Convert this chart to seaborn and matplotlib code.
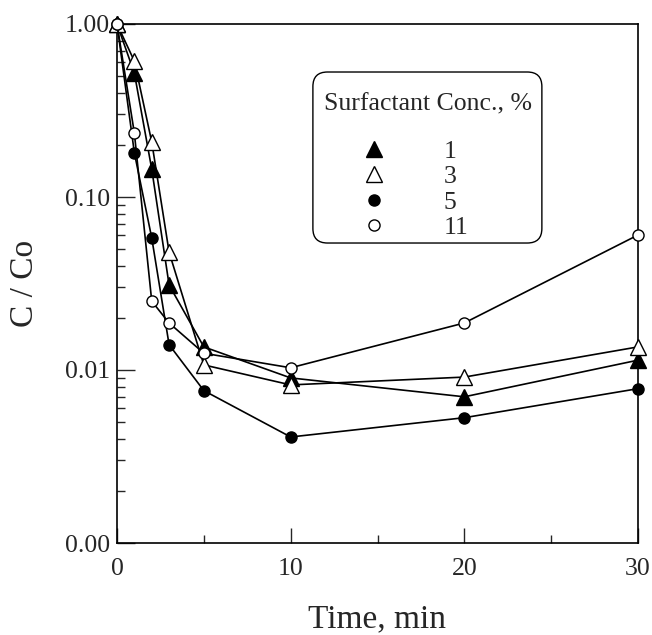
import numpy as np
import pandas as pd
import matplotlib
matplotlib.use("Agg")
import matplotlib.pyplot as plt
import matplotlib.ticker as mticker
from matplotlib.lines import Line2D
from matplotlib.patches import FancyBboxPatch
import seaborn as sns

# ---- data ----
time_min = [0, 1, 2, 3, 5, 10, 20, 30]
conc_1 = [1.0, 0.52, 0.145, 0.031, 0.0136, 0.0090, 0.0070, 0.0114]
conc_3 = [1.0, 0.61, 0.208, 0.048, 0.0107, 0.0082, 0.0091, 0.0136]
conc_5 = [1.0, 0.18, 0.058, 0.0140, 0.0076, 0.0041, 0.0053, 0.0078]
conc_11 = [1.0, 0.234, 0.025, 0.0187, 0.0125, 0.0103, 0.0187, 0.0603]
series_labels = ["1", "3", "5", "11"]
y_ticks = [0.001, 0.01, 0.1, 1.0]
y_tick_labels = ["0.00", "0.01", "0.10", "1.00"]
x_ticks = [0, 10, 20, 30]

sns.set_style("ticks")
plt.rcParams["font.family"] = ["Liberation Serif", "DejaVu Serif"]

fig = plt.figure(figsize=(6.52, 6.35), dpi=100)
ax = fig.add_axes([117 / 652, 1 - 543 / 635, (638 - 117) / 652, (543 - 24) / 635])

styles = [
    dict(marker="^", markerfacecolor="black", markersize=11.5),
    dict(marker="^", markerfacecolor="white", markersize=11.5),
    dict(marker="o", markerfacecolor="black", markersize=8),
    dict(marker="o", markerfacecolor="white", markersize=8),
]
all_series = [conc_1, conc_3, conc_5, conc_11]

ax.set_yscale("log")
for vals, st, lab in zip(all_series, styles, series_labels):
    df = pd.DataFrame({"t": time_min, "c": vals})
    sns.lineplot(data=df, x="t", y="c", ax=ax, color="black", linewidth=1.2,
                 estimator=None, markeredgecolor="black", markeredgewidth=1.0,
                 zorder=3, clip_on=False, **st)

ax.set_xlim(0, 30)
ax.set_ylim(0.001, 1.0)
ax.yaxis.set_major_locator(mticker.FixedLocator(y_ticks))
ax.yaxis.set_major_formatter(mticker.FixedFormatter(y_tick_labels))
ax.yaxis.set_minor_locator(mticker.LogLocator(base=10, subs=np.arange(2, 10)))
ax.yaxis.set_minor_formatter(mticker.NullFormatter())
ax.xaxis.set_major_locator(mticker.FixedLocator(x_ticks))
ax.xaxis.set_minor_locator(mticker.MultipleLocator(5))

ax.tick_params(axis="y", which="major", direction="in", length=13, width=1.0,
               labelsize=18.5, pad=5)
ax.tick_params(axis="y", which="minor", direction="in", length=6, width=1.0)
ax.tick_params(axis="x", which="major", direction="in", length=11, width=1.0,
               labelsize=18.5, pad=11)
ax.tick_params(axis="x", which="minor", direction="in", length=6, width=1.0)
for sp in ax.spines.values():
    sp.set_linewidth(1.2)
    sp.set_color("black")

ax.set_xlabel("Time, min", fontsize=24, labelpad=17)
ax.set_ylabel("C / Co", fontsize=24, labelpad=18)

# rounded legend frame
box = FancyBboxPatch((0.376, 0.578), 0.4395, 0.3295,
                     boxstyle="round,pad=0,rounding_size=0.028",
                     transform=ax.transAxes, facecolor="white",
                     edgecolor="black", linewidth=1.0, zorder=4)
ax.add_patch(box)

handles = [Line2D([], [], linestyle="none", color="black",
                  markeredgecolor="black", markeredgewidth=1.0, **st)
           for st in styles]
leg = ax.legend(handles, series_labels, title="Surfactant Conc., %",
                loc="upper left", bbox_to_anchor=(0.397, 0.8665),
                borderaxespad=0, fontsize=18.5, title_fontsize=18.5,
                handlelength=3.9, handletextpad=0.75, labelspacing=0.1,
                borderpad=0, alignment="left", frameon=False)
leg.set_zorder(5)
leg._legend_box.sep = 17.5

fig.savefig("out.png", dpi=100)
